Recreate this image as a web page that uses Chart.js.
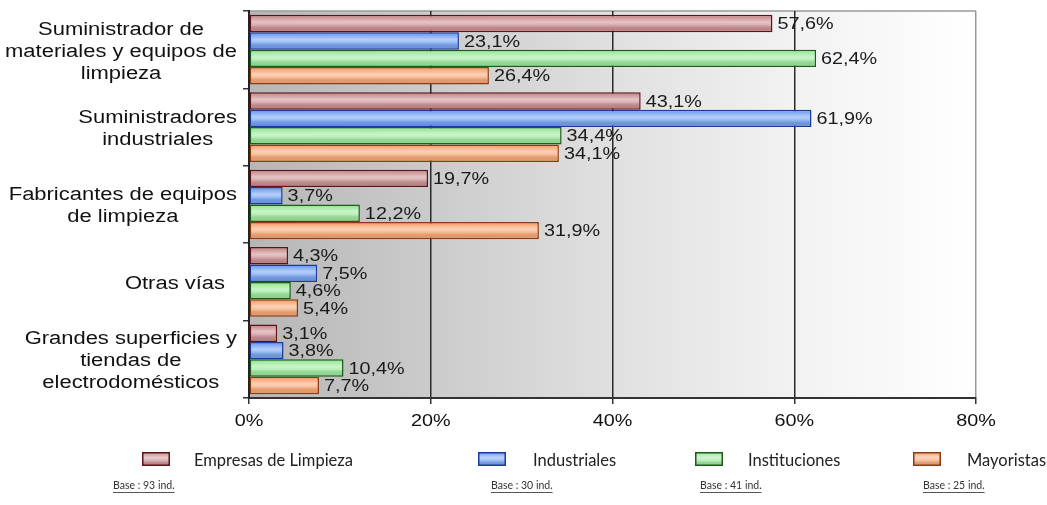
<!DOCTYPE html>
<html>
<head>
<meta charset="utf-8">
<script src="https://cdn.jsdelivr.net/npm/chart.js@4.4.1/dist/chart.umd.min.js"></script>
<style>
    html, body { margin: 0; padding: 0; background: #fff; }
    #wrap { width: 1047px; height: 505px; }
</style>
</head>
<body>
<div id="wrap"><canvas id="myChart"></canvas></div>
<script>
const categories = [
    ['Suministrador de', 'materiales y equipos de', 'limpieza'],
    ['Suministradores', 'industriales'],
    ['Fabricantes de equipos', 'de limpieza'],
    ['Otras vías'],
    ['Grandes superficies y', 'tiendas de', 'electrodomésticos']
]
const empresasLimpieza = [57.6, 43.1, 19.7, 4.3, 3.1]
const industriales = [23.1, 61.9, 3.7, 7.5, 3.8]
const instituciones = [62.4, 34.4, 12.2, 4.6, 10.4]
const mayoristas = [26.4, 34.1, 31.9, 5.4, 7.7]
const seriesNames = ['Empresas de Limpieza', 'Industriales', 'Instituciones', 'Mayoristas']
const baseSizes = [93, 30, 41, 25]
const xTickValues = [0, 20, 40, 60, 80]

const fills = ['#c98b8e', '#6f9ef2', '#98e898', '#f7a36f']
const borders = ['#5c1418', '#1d3a94', '#1b5c1b', '#8a3c12']

const SANS = '"Liberation Sans", Arial, sans-serif'
const LEGEND_FONT = 'Lato, "Open Sans", sans-serif'

// legend / base positions along the bottom
const legendBoxX = [142, 478, 695, 913]
const legendTextX = [194, 533, 748, 967]
const baseTextX = [113, 491, 700, 923]

// text drawn slightly wider than the font
function wideText(c, text, x, y, align, sx) {
    c.save()
    c.translate(x, y)
    c.scale(sx, 1)
    c.textAlign = align
    c.fillText(text, 0, 0)
    c.restore()
}

function fmt(v) {
    return v.toFixed(1).replace('.', ',') + '%'
}

function shinyRect(c, left, top, w, h, fill, stroke, lw) {
    c.fillStyle = fill
    c.fillRect(left, top, w, h)
    const g = c.createLinearGradient(0, top, 0, top + h)
    g.addColorStop(0, 'rgba(255,255,255,0)')
    g.addColorStop(0.4, 'rgba(255,255,255,0.55)')
    g.addColorStop(0.6, 'rgba(255,255,255,0.35)')
    g.addColorStop(1, 'rgba(0,0,0,0.06)')
    c.fillStyle = g
    c.fillRect(left, top, w, h)
    c.strokeStyle = stroke
    c.lineWidth = lw
    c.strokeRect(left + lw / 2, top + lw / 2, w - lw, h - lw)
}

const plotBackground = {
    id: 'plotBackground',
    beforeDraw(chart) {
        const c = chart.ctx
        const a = chart.chartArea
        c.save()
        const g = c.createLinearGradient(a.left, 0, a.right, 0)
        g.addColorStop(0, '#b6b6b6')
        g.addColorStop(0.25, '#cbcbcb')
        g.addColorStop(0.5, '#e0e0e0')
        g.addColorStop(0.75, '#f2f2f2')
        g.addColorStop(1, '#ffffff')
        c.fillStyle = g
        c.fillRect(a.left, a.top, a.right - a.left, a.bottom - a.top)
        c.strokeStyle = '#9a9a9a'
        c.lineWidth = 1.5
        c.beginPath()
        c.moveTo(a.left, a.top)
        c.lineTo(a.right, a.top)
        c.stroke()
        c.restore()
    }
}

const barShine = {
    id: 'barShine',
    afterDatasetsDraw(chart) {
        const c = chart.ctx
        c.save()
        chart.data.datasets.forEach((ds, i) => {
            chart.getDatasetMeta(i).data.forEach(bar => {
                const p = bar.getProps(['x', 'y', 'base', 'height'], true)
                const left = Math.min(p.base, p.x) + 1.5
                const w = Math.abs(p.x - p.base) - 3
                const top = p.y - p.height / 2 + 1.5
                const h = p.height - 3
                if (w <= 0) return
                const g = c.createLinearGradient(0, top, 0, top + h)
                g.addColorStop(0, 'rgba(255,255,255,0)')
                g.addColorStop(0.4, 'rgba(255,255,255,0.5)')
                g.addColorStop(0.6, 'rgba(255,255,255,0.3)')
                g.addColorStop(1, 'rgba(0,0,0,0.05)')
                c.fillStyle = g
                c.fillRect(left, top, w, h)
            })
        })
        c.restore()
    }
}

const valueLabels = {
    id: 'valueLabels',
    afterDatasetsDraw(chart) {
        const c = chart.ctx
        c.save()
        c.font = '16.5px ' + SANS
        c.fillStyle = '#1a1a1a'
        c.textBaseline = 'middle'
        chart.data.datasets.forEach((ds, i) => {
            chart.getDatasetMeta(i).data.forEach((bar, j) => {
                const p = bar.getProps(['x', 'y'], true)
                wideText(c, fmt(ds.data[j]), p.x + 5, p.y + 1, 'left', 1.2)
            })
        })
        c.restore()
    }
}

const axisText = {
    id: 'axisText',
    afterDraw(chart) {
        const c = chart.ctx
        const a = chart.chartArea
        const xs = chart.scales.x
        const ys = chart.scales.y
        c.save()
        c.fillStyle = '#111'
        c.textBaseline = 'middle'

        // x tick labels
        c.font = '16.5px ' + SANS
        xTickValues.forEach(v => {
            wideText(c, v + '%', xs.getPixelForValue(v), a.bottom + 23, 'center', 1.2)
        })

        // category labels: block right aligned, lines centred inside it
        c.font = '18px ' + SANS
        const sx = 1.22
        const lineH = 22
        const right = a.left - 12
        categories.forEach((lines, i) => {
            const cy = ys.getPixelForValue(i)
            const blockW = Math.max(...lines.map(l => c.measureText(l).width)) * sx
            const cx = (lines.length === 1 ? right - 12 : right) - blockW / 2
            lines.forEach((l, k) => {
                const y = cy + (k - (lines.length - 1) / 2) * lineH + 2
                wideText(c, l, cx, y, 'center', sx)
            })
        })

        // legend
        seriesNames.forEach((name, i) => {
            shinyRect(c, legendBoxX[i], 452, 28, 14, fills[i], borders[i], 1.5)
            c.fillStyle = '#222'
            c.font = '16.5px ' + LEGEND_FONT
            c.textAlign = 'left'
            c.fillText(name, legendTextX[i], 461)

            // sample size under each group
            c.font = '10.5px ' + LEGEND_FONT
            c.fillStyle = '#333'
            const t = 'Base : ' + baseSizes[i] + ' ind.'
            c.fillText(t, baseTextX[i], 486)
            const w = c.measureText(t).width
            c.strokeStyle = '#555'
            c.lineWidth = 1
            c.beginPath()
            c.moveTo(baseTextX[i], 492.5)
            c.lineTo(baseTextX[i] + w, 492.5)
            c.stroke()
        })
        c.restore()
    }
}

const seriesValues = [empresasLimpieza, industriales, instituciones, mayoristas]

const ctx = document.getElementById('myChart')
const chartData = {
    type: 'bar',
    data: {
        labels: categories,
        datasets: seriesNames.map((name, i) => ({
            label: name,
            data: seriesValues[i],
            backgroundColor: fills[i],
            borderColor: borders[i],
            borderWidth: 1.5,
            borderSkipped: false,
            categoryPercentage: 0.9,
            barPercentage: 1.0
        }))
    },
    options: {
        indexAxis: 'y',
        responsive: true,
        maintainAspectRatio: false,
        animation: false,
        layout: { padding: { left: 0, top: 11, right: 71, bottom: 72 } },
        plugins: {
            legend: { display: false },
            tooltip: { enabled: false }
        },
        scales: {
            x: {
                min: 0,
                max: 80,
                ticks: { stepSize: 20, display: false },
                grid: {
                    color: c => c.tick && c.tick.value === 80 ? '#9a9a9a' : (c.tick && c.tick.value === 0 ? 'rgba(0,0,0,0)' : '#2a2a2a'),
                    lineWidth: 1.5,
                    tickLength: 6,
                    tickColor: '#333'
                },
                border: { color: '#333', width: 2 },
                afterFit: s => { s.height = 35 }
            },
            y: {
                ticks: { display: false },
                grid: {
                    offset: true,
                    drawOnChartArea: false,
                    tickLength: 6,
                    tickColor: '#333',
                    lineWidth: 1.5
                },
                border: { color: '#222', width: 2 },
                afterFit: s => { s.width = 249 }
            }
        }
    },
    plugins: [plotBackground, barShine, valueLabels, axisText]
}
const myChart = new Chart(ctx, chartData)
</script>
</body>
</html>
